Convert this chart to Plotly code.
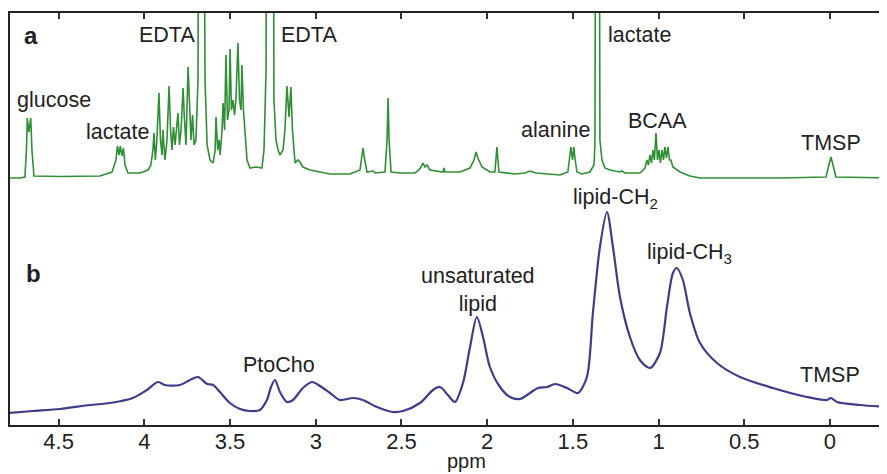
import plotly.graph_objects as go

# ---- Spectrum a (serum, sharp lines): ppm and intensity above its own baseline
ppm_a = [4.800, 4.726, 4.697, 4.688, 4.683, 4.674, 4.663, 4.656, 4.644, 4.492, 4.259,
         4.189, 4.166, 4.157, 4.148, 4.140, 4.131, 4.122, 4.113, 4.096, 4.026,
         3.979, 3.962, 3.950, 3.944, 3.936, 3.927, 3.915, 3.906, 3.897, 3.892, 3.880,
         3.868, 3.856, 3.847, 3.839, 3.830, 3.821, 3.804, 3.795, 3.786, 3.774, 3.766,
         3.757, 3.745, 3.736, 3.728, 3.719, 3.710, 3.699, 3.687, 3.681, 3.669, 3.658,
         3.646, 3.634, 3.617, 3.599, 3.587, 3.582, 3.572, 3.564, 3.558, 3.547, 3.541,
         3.532, 3.524, 3.515, 3.506, 3.500, 3.492, 3.483, 3.474, 3.466, 3.454, 3.445,
         3.436, 3.431, 3.422, 3.413, 3.401, 3.384, 3.349, 3.314, 3.302, 3.296, 3.290,
         3.285, 3.250, 3.244, 3.232, 3.220, 3.209, 3.191, 3.180, 3.168, 3.156, 3.145,
         3.136, 3.121, 3.104, 3.092, 3.075, 3.034, 2.917, 2.800, 2.742, 2.730, 2.724,
         2.716, 2.701, 2.666, 2.654, 2.596, 2.584, 2.578, 2.572, 2.561, 2.508, 2.421,
         2.398, 2.386, 2.374, 2.363, 2.351, 2.334, 2.275, 2.258, 2.252, 2.246, 2.159,
         2.100, 2.077, 2.065, 2.054, 2.030, 1.984, 1.955, 1.949, 1.943, 1.937, 1.931,
         1.838, 1.779, 1.750, 1.715, 1.575, 1.529, 1.517, 1.511, 1.502, 1.494, 1.488,
         1.476, 1.447, 1.400, 1.377, 1.371, 1.365, 1.348, 1.342, 1.330, 1.313, 1.284,
         1.225, 1.214, 1.196, 1.108, 1.079, 1.068, 1.059, 1.050, 1.041, 1.033, 1.024,
         1.015, 1.006, 0.998, 0.989, 0.980, 0.971, 0.963, 0.954, 0.945, 0.936, 0.928,
         0.916, 0.875, 0.817, 0.758, 0.292, 0.023, 0.006, -0.006, -0.018, -0.035, -0.340]
int_a = [0, 0, 1, 28, 60, 46, 60, 28, 2, 1.5, 2,
         6, 18, 32, 23, 32, 22, 30, 13, 5, 5,
         8, 13, 28, 45, 18, 38, 85, 38, 23, 48, 18,
         38, 92, 48, 28, 51, 33, 65, 33, 48, 90, 58,
         33, 111, 63, 38, 63, 33, 38, 98, 500, 450, 500,
         98, 33, 18, 15, 28, 61, 28, 38, 23, 48, 75,
         48, 123, 58, 68, 129, 68, 78, 63, 78, 135, 78,
         68, 113, 68, 45, 18, 10, 11, 10, 28, 68, 108,
         500, 500, 78, 38, 28, 23, 28, 48, 92, 61, 91,
         48, 15, 18, 16, 11, 8, 4, 4, 8, 23, 30,
         20, 6, 7, 5, 6, 38, 80, 38, 6, 5, 5,
         8, 11, 15, 11, 13, 8, 6, 6, 10, 6, 6,
         10, 18, 26, 20, 11, 6, 6, 18, 31, 18, 6,
         4, 5, 7, 5, 3, 6, 23, 31, 18, 31, 20,
         6, 4, 6, 13, 33, 500, 500, 38, 18, 10, 8,
         6, 7, 5, 5, 10, 18, 13, 23, 15, 28, 18,
         45, 18, 28, 15, 28, 18, 31, 20, 31, 18, 18,
         11, 6, 2, 0, 0, 1, 13, 21, 13, 1, 0]

# ---- Spectrum b (tissue, broad lines)
ppm_b = [4.800, 4.650, 4.492, 4.317, 4.201, 4.067, 3.985, 3.921, 3.881, 3.793, 3.734,
         3.687, 3.634, 3.599, 3.559, 3.501, 3.442, 3.384, 3.326, 3.285, 3.261, 3.238,
         3.209, 3.168, 3.133, 3.075, 3.022, 2.975, 2.917, 2.859, 2.783, 2.725, 2.643,
         2.550, 2.491, 2.392, 2.316, 2.275, 2.229, 2.188, 2.141, 2.100, 2.060, 2.024,
         1.984, 1.925, 1.867, 1.809, 1.750, 1.704, 1.651, 1.604, 1.534, 1.470, 1.418,
         1.383, 1.342, 1.301, 1.266, 1.225, 1.167, 1.109, 1.050, 0.992, 0.951, 0.916,
         0.893, 0.858, 0.817, 0.758, 0.659, 0.525, 0.333, 0.134, 0.018, -0.006, -0.041,
         -0.175, -0.340]
int_b = [12, 14, 16, 20, 22, 27, 35, 43, 40, 40, 45,
         48, 41, 40, 33, 22, 16, 14, 15, 25, 38, 45,
         33, 23, 25, 37, 43, 39, 32, 25, 27, 25, 18,
         13, 14, 22, 35, 38, 30, 23, 42, 78, 108, 88,
         58, 38, 28, 26, 32, 37, 38, 41, 37, 32, 48,
         112, 178, 213, 178, 128, 88, 65, 57, 72, 118, 152,
         157, 145, 112, 82, 62, 48, 37, 28, 25, 27, 23,
         20, 18]

OFFSET_A = 247  # vertical stacking offset of spectrum a

tick_vals = [4.5, 4, 3.5, 3, 2.5, 2, 1.5, 1, 0.5, 0]
tick_text = ["4.5", "4", "3.5", "3", "2.5", "2", "1.5", "1", "0.5", "0"]
x_title = "ppm"

labels = [
    ("<b>a</b>", 4.66, 390, 24),
    ("glucose", 4.527, 325, 21.5),
    ("lactate", 4.154, 293, 21.5),
    ("EDTA", 3.868, 390, 21.5),
    ("EDTA", 3.04, 390, 21.5),
    ("alanine", 1.604, 295, 21.5),
    ("lactate", 1.114, 390, 21.5),
    ("BCAA", 1.009, 304, 21.5),
    ("TMSP", -0.006, 282, 21.5),
    ("<b>b</b>", 4.647, 152, 24),
    ("PtoCho", 3.215, 60, 21.5),
    ("unsaturated<br>lipid", 2.053, 135, 21.5),
    ("lipid-CH<sub>2</sub>", 1.254, 227, 21.5),
    ("lipid-CH<sub>3</sub>", 0.817, 172, 21.5),
    ("TMSP", 0.0, 50, 21.5),
]

AX_FONT = "Liberation Sans Narrow, Arial Narrow, Liberation Sans, sans-serif"

fig = go.Figure()
fig.add_trace(go.Scatter(x=ppm_a, y=[v + OFFSET_A for v in int_a], mode="lines",
                         line=dict(color="#2f8f34", width=1.6), hoverinfo="skip"))
fig.add_trace(go.Scatter(x=ppm_b, y=int_b, mode="lines",
                         line=dict(color="#3f3d8a", width=2.2, shape="spline", smoothing=0.8),
                         hoverinfo="skip"))

for text, x, y, size in labels:
    fig.add_annotation(x=x, y=y, text=text, showarrow=False, xanchor="center", yanchor="middle",
                       font=dict(family="Liberation Sans, Arial, sans-serif", size=size, color="#222"))

# axis title placed just under the tick labels
fig.add_annotation(x=2.12, xref="x", y=0, yref="paper", yshift=-36, text=x_title,
                   showarrow=False, xanchor="center", yanchor="middle",
                   font=dict(family=AX_FONT, size=20, color="#222"))

fig.update_layout(
    width=879, height=466,
    margin=dict(l=2, r=0, t=5, b=49),
    paper_bgcolor="white", plot_bgcolor="white",
    showlegend=False,
    xaxis=dict(range=[4.784, -0.333], tickvals=tick_vals, ticktext=tick_text,
               ticks="inside", ticklen=6, tickwidth=1.5, tickcolor="#333",
               showline=True, linecolor="#222", linewidth=1.5, mirror="ticks",
               showgrid=False, zeroline=False, ticklabelstandoff=-4,
               tickfont=dict(family=AX_FONT, size=22, color="#222")),
    yaxis=dict(range=[0, 412], showline=True, linecolor="#222", linewidth=1.5,
               showticklabels=False, ticks="", showgrid=False, zeroline=False),
)

fig.write_html("out.html")
